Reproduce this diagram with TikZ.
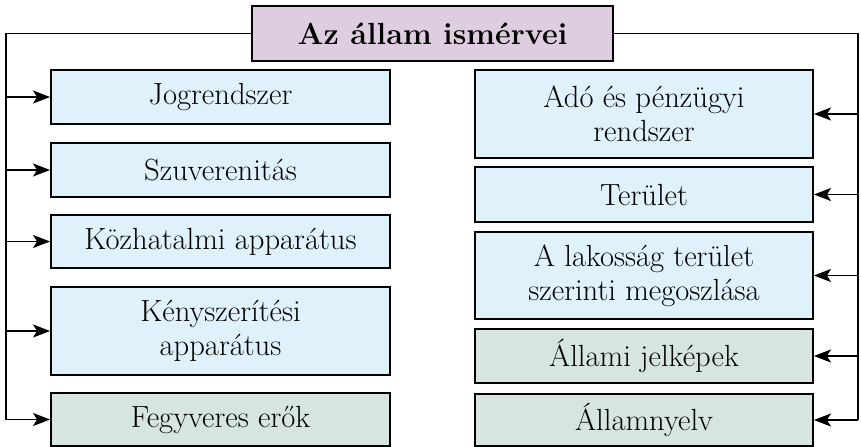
\documentclass[tikz,border=0pt]{standalone}
\usetikzlibrary{arrows.meta}
\definecolor{bluebox}{RGB}{223,241,251}
\definecolor{greenbox}{RGB}{214,230,222}
\definecolor{purplebox}{RGB}{222,205,224}
\begin{document}
\begin{tikzpicture}[x=0.5pt,y=-0.5pt,
  box/.style={draw=black,line width=0.95pt,inner sep=0pt,align=center,
    font=\fontsize{15.3}{16.8}\selectfont},
  lbox/.style={box,minimum width=169.5pt},
  rbox/.style={box,minimum width=169pt},
  bluef/.style={fill=bluebox},
  greenf/.style={fill=greenbox},
  conn/.style={line width=0.95pt},
  arr/.style={conn,-{Stealth[length=8.5pt,width=6.5pt,inset=2pt]}}]
\useasboundingbox (0,0) rectangle (861,446);
% title
\node[box,fill=purplebox,minimum width=180.5pt,minimum height=27.5pt,font=\fontsize{15.3}{16.8}\selectfont\bfseries] (title) at (432.5,33.5) {Az állam ismérvei};
% left column
\node[lbox,bluef,minimum height=27pt] (L1) at (220.5,97) {Jogrendszer};
\node[lbox,bluef,minimum height=27pt] (L2) at (220.5,170) {Szuverenitás};
\node[lbox,bluef,minimum height=26.5pt] (L3) at (220.5,241.5) {Közhatalmi apparátus};
\node[lbox,bluef,minimum height=44pt] (L4) at (220.5,331) {Kényszerítési\\apparátus};
\node[lbox,greenf,minimum height=26.5pt] (L5) at (220.5,419.5) {Fegyveres erők};
% right column
\node[rbox,bluef,minimum height=44pt] (R1) at (644,114) {Adó és pénzügyi\\rendszer};
\node[rbox,bluef,minimum height=27.5pt] (R2) at (644,194.5) {Terület};
\node[rbox,bluef,minimum height=43.5pt] (R3) at (644,275.5) {A lakosság terület\\szerinti megoszlása};
\node[rbox,greenf,minimum height=27pt] (R4) at (644,356) {Állami jelképek};
\node[rbox,greenf,minimum height=26pt] (R5) at (644,420) {Államnyelv};
% rails
\coordinate (lx) at (6,0);
\coordinate (rx) at (858,0);
\draw[conn] (title.west) -- (title.west -| lx) -- (L5.west -| lx);
\draw[conn] (title.east) -- (title.east -| rx) -- (R5.east -| rx);
\foreach \n in {L1,L2,L3,L4,L5}{\draw[arr] (\n.west -| lx) -- (\n.west);}
\foreach \n in {R1,R2,R3,R4,R5}{\draw[arr] (\n.east -| rx) -- (\n.east);}
\end{tikzpicture}
\end{document}
